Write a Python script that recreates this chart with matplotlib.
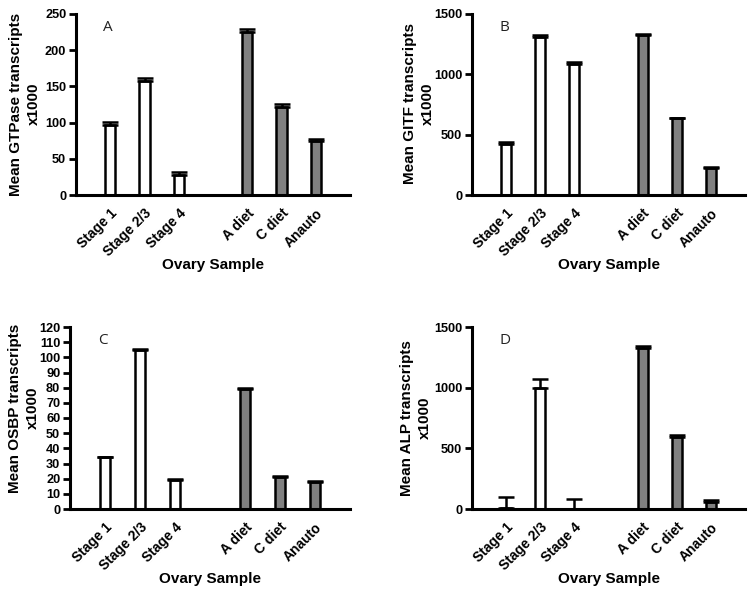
import matplotlib
matplotlib.use("Agg")
import matplotlib.pyplot as plt
import numpy as np

plt.rcParams['font.family'] = ['Liberation Sans', 'DejaVu Sans']

samples = ['Stage 1', 'Stage 2/3', 'Stage 4', 'A diet', 'C diet', 'Anauto']
xpos = [1, 2, 3, 5, 6, 7]
fills = ['white', 'white', 'white', '#808080', '#808080', '#808080']

# mean values and upper error (x1000 transcripts)
gtpase = [97, 157, 27, 225, 122, 74]
gtpase_err = [4, 4, 5, 4, 4, 4]
gitf = [420, 1310, 1085, 1330, 635, 225]
gitf_err = [22, 20, 20, 3, 3, 3]
osbp = [34, 105, 19, 79, 21, 18]
osbp_err = [0.6, 0.6, 0.6, 0.6, 0.6, 0.6]
alp = [12, 1000, 2, 1330, 595, 55]
alp_err = [83, 75, 82, 15, 12, 18]

W, H = 750, 593

# (letter, ylabel, values, errors, ymax, step, axes px box (l, t, r, b), ylabel right edge px, ylabel centre y px)
panels = [
    ('A', 'Mean GTPase transcripts\nx1000', gtpase, gtpase_err, 250, 50, (76, 14, 350, 195), 41, 104),
    ('B', 'Mean GITF transcripts\nx1000', gitf, gitf_err, 1500, 500, (472, 14, 745, 195), 435, 104),
    ('C', 'Mean OSBP transcripts\nx1000', osbp, osbp_err, 120, 10, (70, 327, 350, 509), 40, 408),
    ('D', 'Mean ALP transcripts\nx1000', alp, alp_err, 1500, 500, (472, 327, 745, 509), 432, 418),
]

fig = plt.figure(figsize=(7.5, 5.93), dpi=100)

for letter, ylab, vals, errs, ymax, step, box, ylx, yly in panels:
    l, t, r, b = box
    ax = fig.add_axes([l / W, 1 - b / H, (r - l) / W, (b - t) / H])
    ax.bar(xpos, vals, width=0.3, color=fills, edgecolor='black', linewidth=1.8, zorder=2)
    ax.errorbar(xpos, vals, yerr=[np.zeros(len(errs)), errs], fmt='none',
                ecolor='black', elinewidth=1.8, capsize=5.5, capthick=1.8, zorder=3)
    ax.set_xlim(0, 8)
    ax.set_ylim(0, ymax)
    ax.set_yticks(np.arange(0, ymax + 1, step))
    ax.set_xticks(xpos)
    ax.set_xticklabels(samples, rotation=45, ha='right', rotation_mode='anchor',
                       fontsize=10, fontweight='bold')
    for tl in ax.get_yticklabels():
        tl.set_fontweight('bold')
        tl.set_fontsize(9.2)
    ax.spines['top'].set_visible(False)
    ax.spines['right'].set_visible(False)
    ax.spines['left'].set_linewidth(2.2)
    ax.spines['bottom'].set_linewidth(2.2)
    ax.tick_params(axis='y', width=2, length=5, pad=2)
    ax.tick_params(axis='x', length=0, pad=8)
    ax.set_ylabel(ylab, fontsize=11, fontweight='bold', linespacing=1.35)
    ax.yaxis.set_label_coords((ylx - l) / (r - l), (b - yly) / (b - t))
    ax.set_xlabel('Ovary Sample', fontsize=11, fontweight='bold')
    ax.xaxis.set_label_coords(0.5, -63 / (b - t))
    ax.text(0.1, 0.925, letter, transform=ax.transAxes, fontsize=11,
            family=['Open Sans', 'DejaVu Sans'], color='#222222', va='center')

fig.savefig('out.png', dpi=100)
